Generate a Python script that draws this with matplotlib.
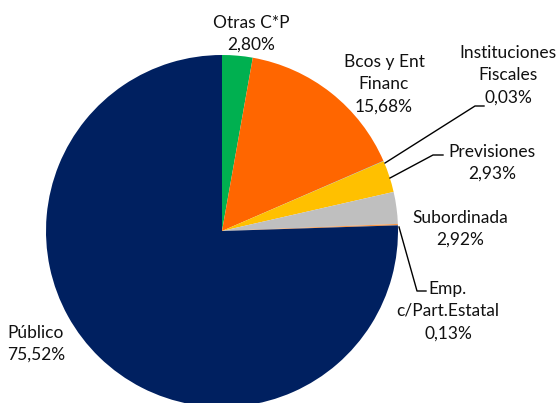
import matplotlib.pyplot as plt

# Composición de la deuda por acreedor
labels = ['Otras C*P', 'Bcos y Ent\nFinanc', 'Instituciones\nFiscales', 'Previsiones',
          'Subordinada', 'Emp.\nc/Part.Estatal', 'Público']
shares = [2.80, 15.68, 0.03, 2.93, 2.92, 0.13, 75.52]
colors = ['#00B050', '#FF6600', '#4472C4', '#FFC000', '#BFBFBF', '#F79646', '#002060']

plt.rcParams['font.family'] = ['Lato', 'DejaVu Sans']

W, H = 560, 403
fig = plt.figure(figsize=(W / 100, H / 100), dpi=100)
ax = fig.add_axes([0, 0, 1, 1])

cx, cy, r = 222, H - 231, 176
ax.pie(shares, colors=colors, startangle=90, counterclock=False,
       center=(cx, cy), radius=r, frame=True,
       wedgeprops=dict(linewidth=0))
ax.set_xlim(0, W)
ax.set_ylim(0, H)
ax.axis('off')

# label positions (pixels from top-left) and leader lines
label_pos = [(251, 34), (384, 84), (508, 75), (492, 163), (460, 229), (448, 311), (7, 344)]
aligns = ['center', 'center', 'center', 'center', 'center', 'center', 'left']
for lab, val, (x, y), ha in zip(labels, shares, label_pos, aligns):
    pct = f"{val:.2f}%".replace('.', ',')
    ax.text(x, H - y, f"{lab}\n{pct}", ha=ha, va='center', multialignment=ha,
            fontsize=12.5, linespacing=1.48, color='#111111')

leaders = [
    [(385, 163), (475, 106), (484, 106)],
    [(390, 178), (433, 155), (443, 155)],
    [(399, 227), (417, 291), (426, 291)],
]
for pts in leaders:
    xs = [p[0] for p in pts]
    ys = [H - p[1] for p in pts]
    ax.plot(xs, ys, color='black', linewidth=1)

fig.savefig('out.png', dpi=100)
